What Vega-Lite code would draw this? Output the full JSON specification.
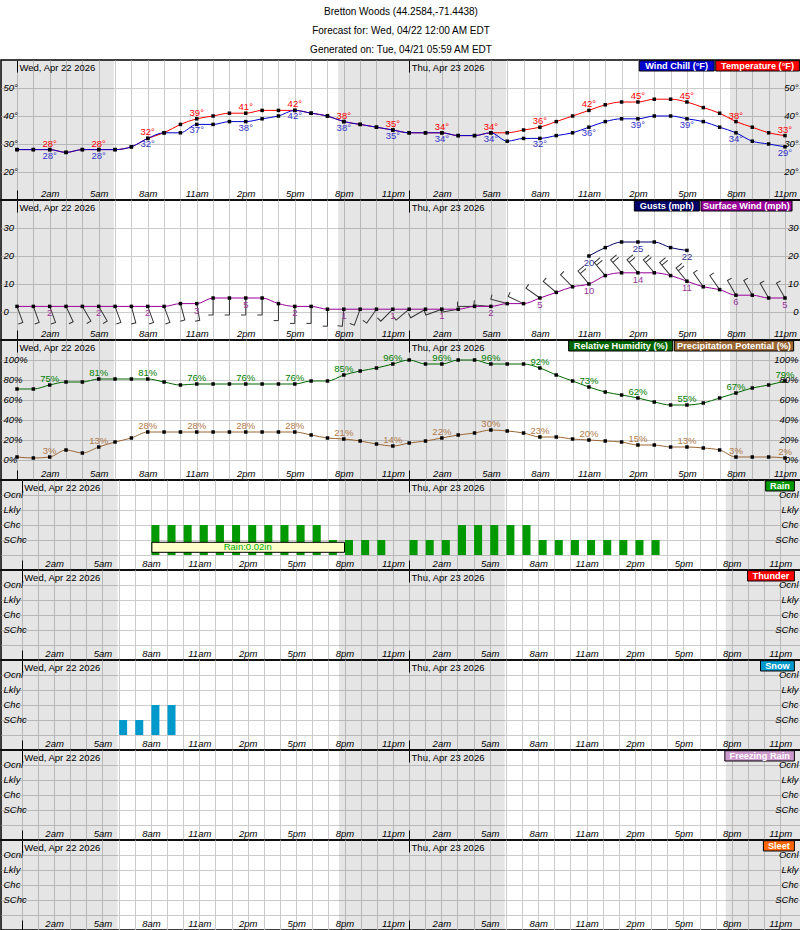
{
"$schema": "https://vega.github.io/schema/vega-lite/v6.json",
"padding": {"top": 6, "left": 0, "right": 0, "bottom": 0},
"background": "white",
"config": {"view": {"stroke": "#000000", "strokeWidth": 1.5}, "font": "Liberation Sans"},
"title": {"text": ["Bretton Woods (44.2584,-71.4438)", "Forecast for: Wed, 04/22 12:00 AM EDT", "Generated on: Tue, 04/21 05:59 AM EDT"], "anchor": "middle", "font": "Liberation Sans", "fontSize": 10, "fontWeight": "normal", "lineHeight": 19, "offset": 4, "color": "#000000"},
"spacing": 0,
"bounds": "flush",
"datasets": {
"night": [{"s": -3, "e": 5.93}, {"s": 19.65, "e": 29.93}, {"s": 43.63, "e": 50}],
"hourly": [
{"h":0,"t":28,"wc":28,"w":2,"g":null,"d":160,"rh":71,"pop":3},
{"h":1,"t":28,"wc":28,"w":2,"g":null,"d":160,"rh":71,"pop":2},
{"h":2,"t":28,"wc":28,"w":2,"g":null,"d":160,"rh":75,"pop":3},
{"h":3,"t":27,"wc":27,"w":2,"g":null,"d":155,"rh":78,"pop":10},
{"h":4,"t":28,"wc":28,"w":2,"g":null,"d":150,"rh":78,"pop":7},
{"h":5,"t":28,"wc":28,"w":2,"g":null,"d":150,"rh":81,"pop":13},
{"h":6,"t":28,"wc":28,"w":2,"g":null,"d":160,"rh":81,"pop":18},
{"h":7,"t":29,"wc":29,"w":2,"g":null,"d":165,"rh":81,"pop":22},
{"h":8,"t":32,"wc":32,"w":2,"g":null,"d":160,"rh":81,"pop":28},
{"h":9,"t":34,"wc":34,"w":2,"g":null,"d":160,"rh":78,"pop":28},
{"h":10,"t":37,"wc":34,"w":3,"g":null,"d":165,"rh":75,"pop":28},
{"h":11,"t":39,"wc":37,"w":3,"g":null,"d":170,"rh":76,"pop":28},
{"h":12,"t":40,"wc":37,"w":5,"g":null,"d":180,"rh":76,"pop":28},
{"h":13,"t":41,"wc":38,"w":5,"g":null,"d":180,"rh":76,"pop":28},
{"h":14,"t":41,"wc":38,"w":5,"g":null,"d":180,"rh":76,"pop":28},
{"h":15,"t":42,"wc":39,"w":5,"g":null,"d":180,"rh":76,"pop":28},
{"h":16,"t":42,"wc":40,"w":3,"g":null,"d":180,"rh":76,"pop":28},
{"h":17,"t":42,"wc":42,"w":2,"g":null,"d":180,"rh":76,"pop":28},
{"h":18,"t":41,"wc":41,"w":2,"g":null,"d":180,"rh":79,"pop":25},
{"h":19,"t":40,"wc":40,"w":1,"g":null,"d":180,"rh":79,"pop":22},
{"h":20,"t":38,"wc":38,"w":1,"g":null,"d":185,"rh":85,"pop":21},
{"h":21,"t":37,"wc":37,"w":1,"g":null,"d":200,"rh":89,"pop":19},
{"h":22,"t":36,"wc":36,"w":1,"g":null,"d":215,"rh":92,"pop":16},
{"h":23,"t":35,"wc":35,"w":1,"g":null,"d":225,"rh":96,"pop":14},
{"h":24,"t":34,"wc":34,"w":1,"g":null,"d":230,"rh":100,"pop":17},
{"h":25,"t":34,"wc":34,"w":1,"g":null,"d":240,"rh":96,"pop":19},
{"h":26,"t":34,"wc":34,"w":1,"g":null,"d":250,"rh":96,"pop":22},
{"h":27,"t":33,"wc":33,"w":1,"g":null,"d":260,"rh":100,"pop":25},
{"h":28,"t":33,"wc":33,"w":2,"g":null,"d":270,"rh":100,"pop":27},
{"h":29,"t":34,"wc":34,"w":2,"g":null,"d":275,"rh":96,"pop":30},
{"h":30,"t":34,"wc":31,"w":3,"g":null,"d":285,"rh":96,"pop":29},
{"h":31,"t":35,"wc":32,"w":3,"g":null,"d":295,"rh":96,"pop":27},
{"h":32,"t":36,"wc":32,"w":5,"g":null,"d":305,"rh":92,"pop":23},
{"h":33,"t":38,"wc":33,"w":7,"g":null,"d":310,"rh":85,"pop":23},
{"h":34,"t":40,"wc":34,"w":9,"g":null,"d":315,"rh":79,"pop":21},
{"h":35,"t":42,"wc":36,"w":10,"g":20,"d":320,"rh":73,"pop":20},
{"h":36,"t":44,"wc":38,"w":13,"g":23,"d":320,"rh":68,"pop":19},
{"h":37,"t":45,"wc":39,"w":14,"g":25,"d":320,"rh":65,"pop":18},
{"h":38,"t":45,"wc":39,"w":14,"g":25,"d":320,"rh":62,"pop":15},
{"h":39,"t":46,"wc":40,"w":14,"g":25,"d":320,"rh":58,"pop":15},
{"h":40,"t":46,"wc":40,"w":13,"g":23,"d":320,"rh":55,"pop":13},
{"h":41,"t":45,"wc":39,"w":11,"g":22,"d":320,"rh":55,"pop":13},
{"h":42,"t":43,"wc":38,"w":9,"g":null,"d":325,"rh":57,"pop":12},
{"h":43,"t":41,"wc":36,"w":8,"g":null,"d":325,"rh":62,"pop":10},
{"h":44,"t":38,"wc":34,"w":6,"g":null,"d":330,"rh":67,"pop":3},
{"h":45,"t":36,"wc":31,"w":6,"g":null,"d":330,"rh":72,"pop":3},
{"h":46,"t":34,"wc":30,"w":5,"g":null,"d":330,"rh":75,"pop":3},
{"h":47,"t":33,"wc":29,"w":5,"g":null,"d":330,"rh":79,"pop":2}
],
"rain": [{"h":8,"v":2},{"h":9,"v":2},{"h":10,"v":2},{"h":11,"v":2},{"h":12,"v":2},{"h":13,"v":2},{"h":14,"v":2},{"h":15,"v":2},{"h":16,"v":2},{"h":17,"v":2},{"h":18,"v":2},{"h":19,"v":1},{"h":20,"v":1},{"h":21,"v":1},{"h":22,"v":1},{"h":24,"v":1},{"h":25,"v":1},{"h":26,"v":1},{"h":27,"v":2},{"h":28,"v":2},{"h":29,"v":2},{"h":30,"v":2},{"h":31,"v":2},{"h":32,"v":1},{"h":33,"v":1},{"h":34,"v":1},{"h":35,"v":1},{"h":36,"v":1},{"h":37,"v":1},{"h":38,"v":1},{"h":39,"v":1}],
"qpf": [{"s": 8.06, "e": 20.0, "label": "Rain:0.02in"}],
"snow": [{"h":6,"v":1},{"h":7,"v":1},{"h":8,"v":2},{"h":9,"v":2}],
"none": []
},
"vconcat": [
{
"width": 800, "height": 140,
"resolve": {"axis": {"x": "independent", "y": "independent"}},
"layer": [
{"data": {"name": "night"}, "mark": {"type": "rect", "color": "#000000", "opacity": 0.1, "clip": true},
 "encoding": {"x": {"field": "s", "type": "quantitative", "scale": {"domain": [-0.98, 47.98], "nice": false, "zero": false},
   "axis": {"orient": "top", "values": [0, 24], "labelExpr": "datum.value == 0 ? 'Wed, Apr 22 2026' : 'Thu, Apr 23 2026'", "title": null, "domain": false, "grid": false, "ticks": true, "tickSize": -12, "tickWidth": 1, "tickColor": "#000000", "labelAlign": "left", "labelBaseline": "middle", "labelPadding": 5, "labelOffset": 2, "labelFont": "Liberation Sans", "labelFontSize": 9.5, "labelColor": "#000000", "labelOverlap": false, "labelFlush": false, "labelBound": false}},
  "x2": {"field": "e"}}},
{"data": {"name": "hourly"}, "mark": {"type": "line", "color": "#ff0000", "strokeWidth": 1, "interpolate": "monotone", "point": {"filled": true, "shape": "square", "size": 12, "color": "#000000"}},
 "encoding": {"x": {"field": "h", "type": "quantitative", "scale": {"domain": [-0.98, 47.98], "nice": false, "zero": false},
   "axis": {"orient": "bottom", "values": [0,1,2,3,4,5,6,7,8,9,10,11,12,13,14,15,16,17,18,19,20,21,22,23,24,25,26,27,28,29,30,31,32,33,34,35,36,37,38,39,40,41,42,43,44,45,46,47], "labelExpr": "datum.value % 3 == 2 ? ((datum.value % 12 == 0 ? 12 : datum.value % 12) + (datum.value % 24 < 12 ? 'am' : 'pm')) : ''", "title": null, "domain": false, "grid": true, "gridColor": "#cccccc", "gridWidth": 1, "ticks": true, "tickSize": -10, "tickWidth": 1, "tickColor": {"condition": {"test": "datum.value % 24 == 0", "value": "#000000"}, "value": "transparent"}, "labelPadding": 3.3, "labelBaseline": "middle", "labelFont": "Liberation Sans", "labelFontSize": 9.5, "labelFontStyle": "italic", "labelColor": "#000000", "labelOverlap": false, "labelFlush": false, "labelBound": false}},
  "y": {"field": "t", "type": "quantitative", "scale": {"domain": [10, 60], "nice": false, "zero": false},
   "axis": {"orient": "left", "values": [20, 30, 40, 50], "labelExpr": "datum.value + '°'", "title": null, "domain": false, "grid": true, "gridColor": "#cccccc", "ticks": false, "tickSize": 0, "labelAlign": "left", "labelBaseline": "middle", "labelPadding": -2, "labelOffset": -1, "labelFont": "Liberation Sans", "labelFontSize": 9.5, "labelFontStyle": "italic", "labelColor": "#000000", "labelOverlap": false, "labelFlush": false, "labelBound": false}}}},
{"data": {"name": "hourly"}, "mark": {"type": "line", "color": "#0000cc", "strokeWidth": 1, "interpolate": "monotone", "point": {"filled": true, "shape": "square", "size": 12, "color": "#000000"}},
 "encoding": {"x": {"field": "h", "type": "quantitative", "axis": null},
  "y": {"field": "wc", "type": "quantitative",
   "axis": {"orient": "right", "values": [20, 30, 40, 50], "labelExpr": "datum.value + '°'", "title": null, "domain": false, "grid": false, "ticks": false, "tickSize": 0, "labelAlign": "right", "labelBaseline": "middle", "labelPadding": -3, "labelOffset": -1, "labelFont": "Liberation Sans", "labelFontSize": 9.5, "labelFontStyle": "italic", "labelColor": "#000000", "labelOverlap": false, "labelFlush": false, "labelBound": false}}}},
{"data": {"name": "hourly"}, "transform": [{"filter": "datum.h % 3 == 2"}], "mark": {"type": "text", "text": {"expr": "datum.t + '°'"}, "color": "#ff0000", "fontSize": 9.5, "dy": -6},
 "encoding": {"x": {"field": "h", "type": "quantitative", "axis": null}, "y": {"field": "t", "type": "quantitative", "axis": null}}},
{"data": {"name": "hourly"}, "transform": [{"filter": "datum.h % 3 == 2"}], "mark": {"type": "text", "text": {"expr": "datum.wc + '°'"}, "color": "#3333cc", "fontSize": 9.5, "dy": 6},
 "encoding": {"x": {"field": "h", "type": "quantitative", "axis": null}, "y": {"field": "wc", "type": "quantitative", "axis": null}}},
{"data": {"values": [{}]}, "mark": {"type": "rect", "color": "#0000cc", "stroke": "#000000", "strokeWidth": 1},
 "encoding": {"x": {"datum": 38.08, "type": "quantitative", "axis": null}, "x2": {"datum": 42.67}, "y": {"datum": 59.75, "type": "quantitative", "axis": null}, "y2": {"datum": 56.07}}},
{"data": {"values": [{}]}, "mark": {"type": "text", "text": "Wind Chill (°F)", "color": "#ffffff", "fontWeight": "bold", "fontSize": 9.2},
 "encoding": {"x": {"datum": 40.37, "type": "quantitative", "axis": null}, "y": {"datum": 57.9, "type": "quantitative", "axis": null}}},
{"data": {"values": [{}]}, "mark": {"type": "rect", "color": "#ff0000", "stroke": "#000000", "strokeWidth": 1},
 "encoding": {"x": {"datum": 42.76, "type": "quantitative", "axis": null}, "x2": {"datum": 47.88}, "y": {"datum": 59.75, "type": "quantitative", "axis": null}, "y2": {"datum": 56.07}}},
{"data": {"values": [{}]}, "mark": {"type": "text", "text": "Temperature (°F)", "color": "#ffffff", "fontWeight": "bold", "fontSize": 9.2},
 "encoding": {"x": {"datum": 45.32, "type": "quantitative", "axis": null}, "y": {"datum": 57.9, "type": "quantitative", "axis": null}}}
]
},
{
"width": 800, "height": 140,
"resolve": {"axis": {"x": "independent", "y": "independent"}},
"layer": [
{"data": {"name": "night"}, "mark": {"type": "rect", "color": "#000000", "opacity": 0.1, "clip": true},
 "encoding": {"x": {"field": "s", "type": "quantitative", "scale": {"domain": [-0.98, 47.98], "nice": false, "zero": false},
   "axis": {"orient": "top", "values": [0, 24], "labelExpr": "datum.value == 0 ? 'Wed, Apr 22 2026' : 'Thu, Apr 23 2026'", "title": null, "domain": false, "grid": false, "ticks": true, "tickSize": -12, "tickWidth": 1, "tickColor": "#000000", "labelAlign": "left", "labelBaseline": "middle", "labelPadding": 5, "labelOffset": 2, "labelFont": "Liberation Sans", "labelFontSize": 9.5, "labelColor": "#000000", "labelOverlap": false, "labelFlush": false, "labelBound": false}},
  "x2": {"field": "e"}}},
{"data": {"name": "hourly"}, "mark": {"type": "point", "filled": false, "stroke": "#333333", "strokeWidth": 1, "size": 1156, "opacity": 1},
 "encoding": {"x": {"field": "h", "type": "quantitative", "axis": null}, "y": {"field": "w", "type": "quantitative", "axis": null},
  "angle": {"field": "d", "type": "quantitative", "scale": null},
  "shape": {"condition": {"test": "datum.w >= 10", "value": "M0,0L0,-1L0.45,-1M0,-0.8L0.45,-0.8"}, "value": "M0,0L0,-1L0.28,-1"}}},
{"data": {"name": "hourly"}, "mark": {"type": "line", "color": "#990099", "strokeWidth": 1, "interpolate": "monotone", "point": {"filled": true, "shape": "square", "size": 12, "color": "#000000"}},
 "encoding": {"x": {"field": "h", "type": "quantitative", "scale": {"domain": [-0.98, 47.98], "nice": false, "zero": false},
   "axis": {"orient": "bottom", "values": [0,1,2,3,4,5,6,7,8,9,10,11,12,13,14,15,16,17,18,19,20,21,22,23,24,25,26,27,28,29,30,31,32,33,34,35,36,37,38,39,40,41,42,43,44,45,46,47], "labelExpr": "datum.value % 3 == 2 ? ((datum.value % 12 == 0 ? 12 : datum.value % 12) + (datum.value % 24 < 12 ? 'am' : 'pm')) : ''", "title": null, "domain": false, "grid": true, "gridColor": "#cccccc", "gridWidth": 1, "ticks": true, "tickSize": -10, "tickWidth": 1, "tickColor": {"condition": {"test": "datum.value % 24 == 0", "value": "#000000"}, "value": "transparent"}, "labelPadding": 3.3, "labelBaseline": "middle", "labelFont": "Liberation Sans", "labelFontSize": 9.5, "labelFontStyle": "italic", "labelColor": "#000000", "labelOverlap": false, "labelFlush": false, "labelBound": false}},
  "y": {"field": "w", "type": "quantitative", "scale": {"domain": [-10, 40], "nice": false, "zero": false},
   "axis": {"orient": "left", "values": [0, 10, 20, 30], "title": null, "domain": false, "grid": true, "gridColor": "#cccccc", "ticks": false, "tickSize": 0, "labelAlign": "left", "labelBaseline": "middle", "labelPadding": -2, "labelOffset": -1, "labelFont": "Liberation Sans", "labelFontSize": 9.5, "labelFontStyle": "italic", "labelColor": "#000000", "labelOverlap": false, "labelFlush": false, "labelBound": false}}}},
{"data": {"name": "hourly"}, "mark": {"type": "line", "color": "#000066", "strokeWidth": 1, "interpolate": "monotone", "point": {"filled": true, "shape": "square", "size": 12, "color": "#000000"}},
 "encoding": {"x": {"field": "h", "type": "quantitative", "axis": null},
  "y": {"field": "g", "type": "quantitative",
   "axis": {"orient": "right", "values": [0, 10, 20, 30], "title": null, "domain": false, "grid": false, "ticks": false, "tickSize": 0, "labelAlign": "right", "labelBaseline": "middle", "labelPadding": -3, "labelOffset": -1, "labelFont": "Liberation Sans", "labelFontSize": 9.5, "labelFontStyle": "italic", "labelColor": "#000000", "labelOverlap": false, "labelFlush": false, "labelBound": false}}}},
{"data": {"name": "hourly"}, "transform": [{"filter": "datum.h % 3 == 2"}], "mark": {"type": "text", "color": "#993399", "fontSize": 9.5, "dy": 7},
 "encoding": {"x": {"field": "h", "type": "quantitative", "axis": null}, "y": {"field": "w", "type": "quantitative", "axis": null}, "text": {"field": "w", "type": "quantitative"}}},
{"data": {"name": "hourly"}, "transform": [{"filter": "datum.h % 3 == 2 && datum.g != null"}], "mark": {"type": "text", "color": "#333399", "fontSize": 9.5, "dy": 7},
 "encoding": {"x": {"field": "h", "type": "quantitative", "axis": null}, "y": {"field": "g", "type": "quantitative", "axis": null}, "text": {"field": "g", "type": "quantitative"}}},
{"data": {"values": [{}]}, "mark": {"type": "rect", "color": "#000066", "stroke": "#000000", "strokeWidth": 1},
 "encoding": {"x": {"datum": 37.78, "type": "quantitative", "axis": null}, "x2": {"datum": 41.76}, "y": {"datum": 39.75, "type": "quantitative", "axis": null}, "y2": {"datum": 36.07}}},
{"data": {"values": [{}]}, "mark": {"type": "text", "text": "Gusts (mph)", "color": "#ffffff", "fontWeight": "bold", "fontSize": 9.2},
 "encoding": {"x": {"datum": 39.77, "type": "quantitative", "axis": null}, "y": {"datum": 37.9, "type": "quantitative", "axis": null}}},
{"data": {"values": [{}]}, "mark": {"type": "rect", "color": "#990099", "stroke": "#000000", "strokeWidth": 1},
 "encoding": {"x": {"datum": 41.86, "type": "quantitative", "axis": null}, "x2": {"datum": 47.43}, "y": {"datum": 39.75, "type": "quantitative", "axis": null}, "y2": {"datum": 36.07}}},
{"data": {"values": [{}]}, "mark": {"type": "text", "text": "Surface Wind (mph)", "color": "#ffffff", "fontWeight": "bold", "fontSize": 9.2},
 "encoding": {"x": {"datum": 44.64, "type": "quantitative", "axis": null}, "y": {"datum": 37.9, "type": "quantitative", "axis": null}}}
]
},
{
"width": 800, "height": 140,
"resolve": {"axis": {"x": "independent", "y": "independent"}},
"layer": [
{"data": {"name": "night"}, "mark": {"type": "rect", "color": "#000000", "opacity": 0.1, "clip": true},
 "encoding": {"x": {"field": "s", "type": "quantitative", "scale": {"domain": [-0.98, 47.98], "nice": false, "zero": false},
   "axis": {"orient": "top", "values": [0, 24], "labelExpr": "datum.value == 0 ? 'Wed, Apr 22 2026' : 'Thu, Apr 23 2026'", "title": null, "domain": false, "grid": false, "ticks": true, "tickSize": -12, "tickWidth": 1, "tickColor": "#000000", "labelAlign": "left", "labelBaseline": "middle", "labelPadding": 5, "labelOffset": 2, "labelFont": "Liberation Sans", "labelFontSize": 9.5, "labelColor": "#000000", "labelOverlap": false, "labelFlush": false, "labelBound": false}},
  "x2": {"field": "e"}}},
{"data": {"name": "hourly"}, "mark": {"type": "line", "color": "#006600", "strokeWidth": 1, "interpolate": "monotone", "point": {"filled": true, "shape": "square", "size": 12, "color": "#000000"}},
 "encoding": {"x": {"field": "h", "type": "quantitative", "scale": {"domain": [-0.98, 47.98], "nice": false, "zero": false},
   "axis": {"orient": "bottom", "values": [0,1,2,3,4,5,6,7,8,9,10,11,12,13,14,15,16,17,18,19,20,21,22,23,24,25,26,27,28,29,30,31,32,33,34,35,36,37,38,39,40,41,42,43,44,45,46,47], "labelExpr": "datum.value % 3 == 2 ? ((datum.value % 12 == 0 ? 12 : datum.value % 12) + (datum.value % 24 < 12 ? 'am' : 'pm')) : ''", "title": null, "domain": false, "grid": true, "gridColor": "#cccccc", "gridWidth": 1, "ticks": true, "tickSize": -10, "tickWidth": 1, "tickColor": {"condition": {"test": "datum.value % 24 == 0", "value": "#000000"}, "value": "transparent"}, "labelPadding": 3.3, "labelBaseline": "middle", "labelFont": "Liberation Sans", "labelFontSize": 9.5, "labelFontStyle": "italic", "labelColor": "#000000", "labelOverlap": false, "labelFlush": false, "labelBound": false}},
  "y": {"field": "rh", "type": "quantitative", "scale": {"domain": [-20, 120], "nice": false, "zero": false},
   "axis": {"orient": "left", "values": [0, 20, 40, 60, 80, 100], "labelExpr": "datum.value + '%'", "title": null, "domain": false, "grid": true, "gridColor": "#cccccc", "ticks": false, "tickSize": 0, "labelAlign": "left", "labelBaseline": "middle", "labelPadding": -2, "labelOffset": -1, "labelFont": "Liberation Sans", "labelFontSize": 9.5, "labelFontStyle": "italic", "labelColor": "#000000", "labelOverlap": false, "labelFlush": false, "labelBound": false}}}},
{"data": {"name": "hourly"}, "mark": {"type": "line", "color": "#996633", "strokeWidth": 1, "interpolate": "monotone", "point": {"filled": true, "shape": "square", "size": 12, "color": "#000000"}},
 "encoding": {"x": {"field": "h", "type": "quantitative", "axis": null},
  "y": {"field": "pop", "type": "quantitative",
   "axis": {"orient": "right", "values": [0, 20, 40, 60, 80, 100], "labelExpr": "datum.value + '%'", "title": null, "domain": false, "grid": false, "ticks": false, "tickSize": 0, "labelAlign": "right", "labelBaseline": "middle", "labelPadding": -3, "labelOffset": -1, "labelFont": "Liberation Sans", "labelFontSize": 9.5, "labelFontStyle": "italic", "labelColor": "#000000", "labelOverlap": false, "labelFlush": false, "labelBound": false}}}},
{"data": {"name": "hourly"}, "transform": [{"filter": "datum.h % 3 == 2"}], "mark": {"type": "text", "text": {"expr": "datum.rh + '%'"}, "color": "#008000", "fontSize": 9.5, "dy": -6},
 "encoding": {"x": {"field": "h", "type": "quantitative", "axis": null}, "y": {"field": "rh", "type": "quantitative", "axis": null}}},
{"data": {"name": "hourly"}, "transform": [{"filter": "datum.h % 3 == 2"}], "mark": {"type": "text", "text": {"expr": "datum.pop + '%'"}, "color": "#b07a4a", "fontSize": 9.5, "dy": -6},
 "encoding": {"x": {"field": "h", "type": "quantitative", "axis": null}, "y": {"field": "pop", "type": "quantitative", "axis": null}}},
{"data": {"values": [{}]}, "mark": {"type": "rect", "color": "#006600", "stroke": "#000000", "strokeWidth": 1},
 "encoding": {"x": {"datum": 33.76, "type": "quantitative", "axis": null}, "x2": {"datum": 40.13}, "y": {"datum": 119.3, "type": "quantitative", "axis": null}, "y2": {"datum": 109}}},
{"data": {"values": [{}]}, "mark": {"type": "text", "text": "Relative Humidity (%)", "color": "#ffffff", "fontWeight": "bold", "fontSize": 9.2},
 "encoding": {"x": {"datum": 36.95, "type": "quantitative", "axis": null}, "y": {"datum": 114, "type": "quantitative", "axis": null}}},
{"data": {"values": [{}]}, "mark": {"type": "rect", "color": "#996633", "stroke": "#000000", "strokeWidth": 1},
 "encoding": {"x": {"datum": 40.23, "type": "quantitative", "axis": null}, "x2": {"datum": 47.53}, "y": {"datum": 119.3, "type": "quantitative", "axis": null}, "y2": {"datum": 109}}},
{"data": {"values": [{}]}, "mark": {"type": "text", "text": "Precipitation Potential (%)", "color": "#ffffff", "fontWeight": "bold", "fontSize": 9.2},
 "encoding": {"x": {"datum": 43.88, "type": "quantitative", "axis": null}, "y": {"datum": 114, "type": "quantitative", "axis": null}}}
]
},
{
"width": 800, "height": 90,
"resolve": {"axis": {"x": "independent", "y": "independent"}},
"layer": [
{"data": {"name": "night"}, "mark": {"type": "rect", "color": "#000000", "opacity": 0.1, "clip": true},
 "encoding": {"x": {"field": "s", "type": "quantitative", "scale": {"domain": [-0.98, 47.98], "nice": false, "zero": false},
   "axis": {"orient": "top", "values": [0, 24], "labelExpr": "datum.value == 0 ? 'Wed, Apr 22 2026' : 'Thu, Apr 23 2026'", "title": null, "domain": false, "grid": false, "ticks": true, "tickSize": -12, "tickWidth": 1, "tickColor": "#000000", "labelAlign": "left", "labelBaseline": "middle", "labelPadding": 5, "labelOffset": 2, "labelFont": "Liberation Sans", "labelFontSize": 9.5, "labelColor": "#000000", "labelOverlap": false, "labelFlush": false, "labelBound": false}},
  "x2": {"field": "e"}}},
{"data": {"name": "rain"}, "mark": {"type": "bar", "color": "#009900", "orient": "vertical", "width": 8, "xOffset": 4.5},
 "encoding": {"x": {"field": "h", "type": "quantitative", "scale": {"domain": [-0.98, 47.98], "nice": false, "zero": false},
   "axis": {"orient": "bottom", "values": [0,1,2,3,4,5,6,7,8,9,10,11,12,13,14,15,16,17,18,19,20,21,22,23,24,25,26,27,28,29,30,31,32,33,34,35,36,37,38,39,40,41,42,43,44,45,46,47], "labelExpr": "datum.value % 3 == 2 ? ((datum.value % 12 == 0 ? 12 : datum.value % 12) + (datum.value % 24 < 12 ? 'am' : 'pm')) : ''", "title": null, "domain": false, "grid": true, "gridColor": "#cccccc", "gridWidth": 1, "ticks": true, "tickSize": -10, "tickWidth": 1, "tickColor": {"condition": {"test": "datum.value % 24 == 0", "value": "#000000"}, "value": "transparent"}, "labelPadding": 3.3, "labelBaseline": "middle", "labelFont": "Liberation Sans", "labelFontSize": 9.5, "labelFontStyle": "italic", "labelColor": "#000000", "labelOverlap": false, "labelFlush": false, "labelBound": false}},
  "y": {"field": "v", "type": "quantitative", "scale": {"domain": [-1, 5], "nice": false, "zero": false},
   "axis": {"orient": "left", "values": [0, 1, 2, 3, 4], "labelExpr": "datum.value == 1 ? 'SChc' : datum.value == 2 ? 'Chc' : datum.value == 3 ? 'Lkly' : datum.value == 4 ? 'Ocnl' : ''", "title": null, "domain": false, "grid": true, "gridColor": "#cccccc", "ticks": false, "tickSize": 0, "labelAlign": "left", "labelBaseline": "middle", "labelPadding": -2, "labelOffset": -1, "labelFont": "Liberation Sans", "labelFontSize": 9.5, "labelFontStyle": "italic", "labelColor": "#000000", "labelOverlap": false, "labelFlush": false, "labelBound": false}},
  "y2": {"datum": 0}}},
{"data": {"name": "qpf"}, "mark": {"type": "rect", "color": "#ffffcc", "stroke": "#000000", "strokeWidth": 1},
 "encoding": {"x": {"field": "s", "type": "quantitative", "axis": null}, "x2": {"field": "e"}, "y": {"datum": 0.847, "type": "quantitative", "axis": null}, "y2": {"datum": 0.18}}},
{"data": {"name": "qpf"}, "mark": {"type": "text", "color": "#00aa00", "fontSize": 9.5},
 "encoding": {"x": {"datum": 14, "type": "quantitative", "axis": null}, "y": {"datum": 0.513, "type": "quantitative", "axis": null}, "text": {"field": "label"}}},
{"data": {"values": [{}]}, "mark": {"type": "rect", "color": "#009900", "stroke": "#000000", "strokeWidth": 1},
 "encoding": {"x": {"datum": 46.1, "type": "quantitative", "axis": null}, "x2": {"datum": 47.88},
  "y": {"datum": 4.953, "type": "quantitative", "axis": {"orient": "right", "values": [1, 2, 3, 4], "labelExpr": "datum.value == 1 ? 'SChc' : datum.value == 2 ? 'Chc' : datum.value == 3 ? 'Lkly' : 'Ocnl'", "title": null, "domain": false, "grid": false, "ticks": false, "tickSize": 0, "labelAlign": "right", "labelBaseline": "middle", "labelPadding": -3, "labelOffset": -1, "labelFont": "Liberation Sans", "labelFontSize": 9.5, "labelFontStyle": "italic", "labelColor": "#000000", "labelOverlap": false, "labelFlush": false, "labelBound": false}},
  "y2": {"datum": 4.267}}},
{"data": {"values": [{}]}, "mark": {"type": "text", "text": "Rain", "color": "#ffffff", "fontWeight": "bold", "fontSize": 9.2},
 "encoding": {"x": {"datum": 46.99, "type": "quantitative", "axis": null}, "y": {"datum": 4.6, "type": "quantitative", "axis": null}}}
]
},
{
"width": 800, "height": 90,
"resolve": {"axis": {"x": "independent", "y": "independent"}},
"layer": [
{"data": {"name": "night"}, "mark": {"type": "rect", "color": "#000000", "opacity": 0.1, "clip": true},
 "encoding": {"x": {"field": "s", "type": "quantitative", "scale": {"domain": [-0.98, 47.98], "nice": false, "zero": false},
   "axis": {"orient": "top", "values": [0, 24], "labelExpr": "datum.value == 0 ? 'Wed, Apr 22 2026' : 'Thu, Apr 23 2026'", "title": null, "domain": false, "grid": false, "ticks": true, "tickSize": -12, "tickWidth": 1, "tickColor": "#000000", "labelAlign": "left", "labelBaseline": "middle", "labelPadding": 5, "labelOffset": 2, "labelFont": "Liberation Sans", "labelFontSize": 9.5, "labelColor": "#000000", "labelOverlap": false, "labelFlush": false, "labelBound": false}},
  "x2": {"field": "e"}}},
{"data": {"name": "none"}, "mark": {"type": "bar", "color": "#ff0000", "orient": "vertical", "width": 8, "xOffset": 4.5},
 "encoding": {"x": {"field": "h", "type": "quantitative", "scale": {"domain": [-0.98, 47.98], "nice": false, "zero": false},
   "axis": {"orient": "bottom", "values": [0,1,2,3,4,5,6,7,8,9,10,11,12,13,14,15,16,17,18,19,20,21,22,23,24,25,26,27,28,29,30,31,32,33,34,35,36,37,38,39,40,41,42,43,44,45,46,47], "labelExpr": "datum.value % 3 == 2 ? ((datum.value % 12 == 0 ? 12 : datum.value % 12) + (datum.value % 24 < 12 ? 'am' : 'pm')) : ''", "title": null, "domain": false, "grid": true, "gridColor": "#cccccc", "gridWidth": 1, "ticks": true, "tickSize": -10, "tickWidth": 1, "tickColor": {"condition": {"test": "datum.value % 24 == 0", "value": "#000000"}, "value": "transparent"}, "labelPadding": 3.3, "labelBaseline": "middle", "labelFont": "Liberation Sans", "labelFontSize": 9.5, "labelFontStyle": "italic", "labelColor": "#000000", "labelOverlap": false, "labelFlush": false, "labelBound": false}},
  "y": {"field": "v", "type": "quantitative", "scale": {"domain": [-1, 5], "nice": false, "zero": false},
   "axis": {"orient": "left", "values": [0, 1, 2, 3, 4], "labelExpr": "datum.value == 1 ? 'SChc' : datum.value == 2 ? 'Chc' : datum.value == 3 ? 'Lkly' : datum.value == 4 ? 'Ocnl' : ''", "title": null, "domain": false, "grid": true, "gridColor": "#cccccc", "ticks": false, "tickSize": 0, "labelAlign": "left", "labelBaseline": "middle", "labelPadding": -2, "labelOffset": -1, "labelFont": "Liberation Sans", "labelFontSize": 9.5, "labelFontStyle": "italic", "labelColor": "#000000", "labelOverlap": false, "labelFlush": false, "labelBound": false}},
  "y2": {"datum": 0}}},
{"data": {"values": [{}]}, "mark": {"type": "rect", "color": "#ff0000", "stroke": "#000000", "strokeWidth": 1},
 "encoding": {"x": {"datum": 44.98, "type": "quantitative", "axis": null}, "x2": {"datum": 47.88},
  "y": {"datum": 4.953, "type": "quantitative", "axis": {"orient": "right", "values": [1, 2, 3, 4], "labelExpr": "datum.value == 1 ? 'SChc' : datum.value == 2 ? 'Chc' : datum.value == 3 ? 'Lkly' : 'Ocnl'", "title": null, "domain": false, "grid": false, "ticks": false, "tickSize": 0, "labelAlign": "right", "labelBaseline": "middle", "labelPadding": -3, "labelOffset": -1, "labelFont": "Liberation Sans", "labelFontSize": 9.5, "labelFontStyle": "italic", "labelColor": "#000000", "labelOverlap": false, "labelFlush": false, "labelBound": false}},
  "y2": {"datum": 4.267}}},
{"data": {"values": [{}]}, "mark": {"type": "text", "text": "Thunder", "color": "#ffffff", "fontWeight": "bold", "fontSize": 9.2},
 "encoding": {"x": {"datum": 46.43, "type": "quantitative", "axis": null}, "y": {"datum": 4.6, "type": "quantitative", "axis": null}}}
]
},
{
"width": 800, "height": 90,
"resolve": {"axis": {"x": "independent", "y": "independent"}},
"layer": [
{"data": {"name": "night"}, "mark": {"type": "rect", "color": "#000000", "opacity": 0.1, "clip": true},
 "encoding": {"x": {"field": "s", "type": "quantitative", "scale": {"domain": [-0.98, 47.98], "nice": false, "zero": false},
   "axis": {"orient": "top", "values": [0, 24], "labelExpr": "datum.value == 0 ? 'Wed, Apr 22 2026' : 'Thu, Apr 23 2026'", "title": null, "domain": false, "grid": false, "ticks": true, "tickSize": -12, "tickWidth": 1, "tickColor": "#000000", "labelAlign": "left", "labelBaseline": "middle", "labelPadding": 5, "labelOffset": 2, "labelFont": "Liberation Sans", "labelFontSize": 9.5, "labelColor": "#000000", "labelOverlap": false, "labelFlush": false, "labelBound": false}},
  "x2": {"field": "e"}}},
{"data": {"name": "snow"}, "mark": {"type": "bar", "color": "#0099cc", "orient": "vertical", "width": 8, "xOffset": 4.5},
 "encoding": {"x": {"field": "h", "type": "quantitative", "scale": {"domain": [-0.98, 47.98], "nice": false, "zero": false},
   "axis": {"orient": "bottom", "values": [0,1,2,3,4,5,6,7,8,9,10,11,12,13,14,15,16,17,18,19,20,21,22,23,24,25,26,27,28,29,30,31,32,33,34,35,36,37,38,39,40,41,42,43,44,45,46,47], "labelExpr": "datum.value % 3 == 2 ? ((datum.value % 12 == 0 ? 12 : datum.value % 12) + (datum.value % 24 < 12 ? 'am' : 'pm')) : ''", "title": null, "domain": false, "grid": true, "gridColor": "#cccccc", "gridWidth": 1, "ticks": true, "tickSize": -10, "tickWidth": 1, "tickColor": {"condition": {"test": "datum.value % 24 == 0", "value": "#000000"}, "value": "transparent"}, "labelPadding": 3.3, "labelBaseline": "middle", "labelFont": "Liberation Sans", "labelFontSize": 9.5, "labelFontStyle": "italic", "labelColor": "#000000", "labelOverlap": false, "labelFlush": false, "labelBound": false}},
  "y": {"field": "v", "type": "quantitative", "scale": {"domain": [-1, 5], "nice": false, "zero": false},
   "axis": {"orient": "left", "values": [0, 1, 2, 3, 4], "labelExpr": "datum.value == 1 ? 'SChc' : datum.value == 2 ? 'Chc' : datum.value == 3 ? 'Lkly' : datum.value == 4 ? 'Ocnl' : ''", "title": null, "domain": false, "grid": true, "gridColor": "#cccccc", "ticks": false, "tickSize": 0, "labelAlign": "left", "labelBaseline": "middle", "labelPadding": -2, "labelOffset": -1, "labelFont": "Liberation Sans", "labelFontSize": 9.5, "labelFontStyle": "italic", "labelColor": "#000000", "labelOverlap": false, "labelFlush": false, "labelBound": false}},
  "y2": {"datum": 0}}},
{"data": {"values": [{}]}, "mark": {"type": "rect", "color": "#0099cc", "stroke": "#000000", "strokeWidth": 1},
 "encoding": {"x": {"datum": 45.78, "type": "quantitative", "axis": null}, "x2": {"datum": 47.88},
  "y": {"datum": 4.953, "type": "quantitative", "axis": {"orient": "right", "values": [1, 2, 3, 4], "labelExpr": "datum.value == 1 ? 'SChc' : datum.value == 2 ? 'Chc' : datum.value == 3 ? 'Lkly' : 'Ocnl'", "title": null, "domain": false, "grid": false, "ticks": false, "tickSize": 0, "labelAlign": "right", "labelBaseline": "middle", "labelPadding": -3, "labelOffset": -1, "labelFont": "Liberation Sans", "labelFontSize": 9.5, "labelFontStyle": "italic", "labelColor": "#000000", "labelOverlap": false, "labelFlush": false, "labelBound": false}},
  "y2": {"datum": 4.267}}},
{"data": {"values": [{}]}, "mark": {"type": "text", "text": "Snow", "color": "#ffffff", "fontWeight": "bold", "fontSize": 9.2},
 "encoding": {"x": {"datum": 46.83, "type": "quantitative", "axis": null}, "y": {"datum": 4.6, "type": "quantitative", "axis": null}}}
]
},
{
"width": 800, "height": 90,
"resolve": {"axis": {"x": "independent", "y": "independent"}},
"layer": [
{"data": {"name": "night"}, "mark": {"type": "rect", "color": "#000000", "opacity": 0.1, "clip": true},
 "encoding": {"x": {"field": "s", "type": "quantitative", "scale": {"domain": [-0.98, 47.98], "nice": false, "zero": false},
   "axis": {"orient": "top", "values": [0, 24], "labelExpr": "datum.value == 0 ? 'Wed, Apr 22 2026' : 'Thu, Apr 23 2026'", "title": null, "domain": false, "grid": false, "ticks": true, "tickSize": -12, "tickWidth": 1, "tickColor": "#000000", "labelAlign": "left", "labelBaseline": "middle", "labelPadding": 5, "labelOffset": 2, "labelFont": "Liberation Sans", "labelFontSize": 9.5, "labelColor": "#000000", "labelOverlap": false, "labelFlush": false, "labelBound": false}},
  "x2": {"field": "e"}}},
{"data": {"name": "none"}, "mark": {"type": "bar", "color": "#cc99cc", "orient": "vertical", "width": 8, "xOffset": 4.5},
 "encoding": {"x": {"field": "h", "type": "quantitative", "scale": {"domain": [-0.98, 47.98], "nice": false, "zero": false},
   "axis": {"orient": "bottom", "values": [0,1,2,3,4,5,6,7,8,9,10,11,12,13,14,15,16,17,18,19,20,21,22,23,24,25,26,27,28,29,30,31,32,33,34,35,36,37,38,39,40,41,42,43,44,45,46,47], "labelExpr": "datum.value % 3 == 2 ? ((datum.value % 12 == 0 ? 12 : datum.value % 12) + (datum.value % 24 < 12 ? 'am' : 'pm')) : ''", "title": null, "domain": false, "grid": true, "gridColor": "#cccccc", "gridWidth": 1, "ticks": true, "tickSize": -10, "tickWidth": 1, "tickColor": {"condition": {"test": "datum.value % 24 == 0", "value": "#000000"}, "value": "transparent"}, "labelPadding": 3.3, "labelBaseline": "middle", "labelFont": "Liberation Sans", "labelFontSize": 9.5, "labelFontStyle": "italic", "labelColor": "#000000", "labelOverlap": false, "labelFlush": false, "labelBound": false}},
  "y": {"field": "v", "type": "quantitative", "scale": {"domain": [-1, 5], "nice": false, "zero": false},
   "axis": {"orient": "left", "values": [0, 1, 2, 3, 4], "labelExpr": "datum.value == 1 ? 'SChc' : datum.value == 2 ? 'Chc' : datum.value == 3 ? 'Lkly' : datum.value == 4 ? 'Ocnl' : ''", "title": null, "domain": false, "grid": true, "gridColor": "#cccccc", "ticks": false, "tickSize": 0, "labelAlign": "left", "labelBaseline": "middle", "labelPadding": -2, "labelOffset": -1, "labelFont": "Liberation Sans", "labelFontSize": 9.5, "labelFontStyle": "italic", "labelColor": "#000000", "labelOverlap": false, "labelFlush": false, "labelBound": false}},
  "y2": {"datum": 0}}},
{"data": {"values": [{}]}, "mark": {"type": "rect", "color": "#cc99cc", "stroke": "#000000", "strokeWidth": 1},
 "encoding": {"x": {"datum": 43.57, "type": "quantitative", "axis": null}, "x2": {"datum": 47.88},
  "y": {"datum": 4.953, "type": "quantitative", "axis": {"orient": "right", "values": [1, 2, 3, 4], "labelExpr": "datum.value == 1 ? 'SChc' : datum.value == 2 ? 'Chc' : datum.value == 3 ? 'Lkly' : 'Ocnl'", "title": null, "domain": false, "grid": false, "ticks": false, "tickSize": 0, "labelAlign": "right", "labelBaseline": "middle", "labelPadding": -3, "labelOffset": -1, "labelFont": "Liberation Sans", "labelFontSize": 9.5, "labelFontStyle": "italic", "labelColor": "#000000", "labelOverlap": false, "labelFlush": false, "labelBound": false}},
  "y2": {"datum": 4.267}}},
{"data": {"values": [{}]}, "mark": {"type": "text", "text": "Freezing Rain", "color": "#ffffff", "fontWeight": "bold", "fontSize": 9.2},
 "encoding": {"x": {"datum": 45.73, "type": "quantitative", "axis": null}, "y": {"datum": 4.6, "type": "quantitative", "axis": null}}}
]
},
{
"width": 800, "height": 90,
"resolve": {"axis": {"x": "independent", "y": "independent"}},
"layer": [
{"data": {"name": "night"}, "mark": {"type": "rect", "color": "#000000", "opacity": 0.1, "clip": true},
 "encoding": {"x": {"field": "s", "type": "quantitative", "scale": {"domain": [-0.98, 47.98], "nice": false, "zero": false},
   "axis": {"orient": "top", "values": [0, 24], "labelExpr": "datum.value == 0 ? 'Wed, Apr 22 2026' : 'Thu, Apr 23 2026'", "title": null, "domain": false, "grid": false, "ticks": true, "tickSize": -12, "tickWidth": 1, "tickColor": "#000000", "labelAlign": "left", "labelBaseline": "middle", "labelPadding": 5, "labelOffset": 2, "labelFont": "Liberation Sans", "labelFontSize": 9.5, "labelColor": "#000000", "labelOverlap": false, "labelFlush": false, "labelBound": false}},
  "x2": {"field": "e"}}},
{"data": {"name": "none"}, "mark": {"type": "bar", "color": "#ff6600", "orient": "vertical", "width": 8, "xOffset": 4.5},
 "encoding": {"x": {"field": "h", "type": "quantitative", "scale": {"domain": [-0.98, 47.98], "nice": false, "zero": false},
   "axis": {"orient": "bottom", "values": [0,1,2,3,4,5,6,7,8,9,10,11,12,13,14,15,16,17,18,19,20,21,22,23,24,25,26,27,28,29,30,31,32,33,34,35,36,37,38,39,40,41,42,43,44,45,46,47], "labelExpr": "datum.value % 3 == 2 ? ((datum.value % 12 == 0 ? 12 : datum.value % 12) + (datum.value % 24 < 12 ? 'am' : 'pm')) : ''", "title": null, "domain": false, "grid": true, "gridColor": "#cccccc", "gridWidth": 1, "ticks": true, "tickSize": -10, "tickWidth": 1, "tickColor": {"condition": {"test": "datum.value % 24 == 0", "value": "#000000"}, "value": "transparent"}, "labelPadding": 3.3, "labelBaseline": "middle", "labelFont": "Liberation Sans", "labelFontSize": 9.5, "labelFontStyle": "italic", "labelColor": "#000000", "labelOverlap": false, "labelFlush": false, "labelBound": false}},
  "y": {"field": "v", "type": "quantitative", "scale": {"domain": [-1, 5], "nice": false, "zero": false},
   "axis": {"orient": "left", "values": [0, 1, 2, 3, 4], "labelExpr": "datum.value == 1 ? 'SChc' : datum.value == 2 ? 'Chc' : datum.value == 3 ? 'Lkly' : datum.value == 4 ? 'Ocnl' : ''", "title": null, "domain": false, "grid": true, "gridColor": "#cccccc", "ticks": false, "tickSize": 0, "labelAlign": "left", "labelBaseline": "middle", "labelPadding": -2, "labelOffset": -1, "labelFont": "Liberation Sans", "labelFontSize": 9.5, "labelFontStyle": "italic", "labelColor": "#000000", "labelOverlap": false, "labelFlush": false, "labelBound": false}},
  "y2": {"datum": 0}}},
{"data": {"values": [{}]}, "mark": {"type": "rect", "color": "#ff6600", "stroke": "#000000", "strokeWidth": 1},
 "encoding": {"x": {"datum": 45.96, "type": "quantitative", "axis": null}, "x2": {"datum": 47.88},
  "y": {"datum": 4.953, "type": "quantitative", "axis": {"orient": "right", "values": [1, 2, 3, 4], "labelExpr": "datum.value == 1 ? 'SChc' : datum.value == 2 ? 'Chc' : datum.value == 3 ? 'Lkly' : 'Ocnl'", "title": null, "domain": false, "grid": false, "ticks": false, "tickSize": 0, "labelAlign": "right", "labelBaseline": "middle", "labelPadding": -3, "labelOffset": -1, "labelFont": "Liberation Sans", "labelFontSize": 9.5, "labelFontStyle": "italic", "labelColor": "#000000", "labelOverlap": false, "labelFlush": false, "labelBound": false}},
  "y2": {"datum": 4.267}}},
{"data": {"values": [{}]}, "mark": {"type": "text", "text": "Sleet", "color": "#ffffff", "fontWeight": "bold", "fontSize": 9.2},
 "encoding": {"x": {"datum": 46.92, "type": "quantitative", "axis": null}, "y": {"datum": 4.6, "type": "quantitative", "axis": null}}}
]
}
]
}
